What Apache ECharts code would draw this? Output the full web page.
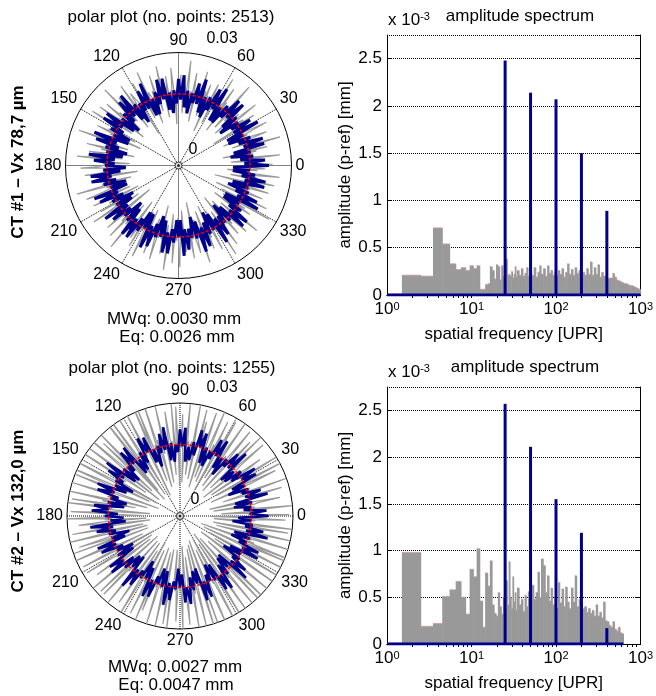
<!DOCTYPE html>
<html>
<head>
<meta charset="utf-8">
<script src="https://cdn.jsdelivr.net/npm/echarts@6/dist/echarts.min.js"></script>
<style>
html, body { margin: 0; padding: 0; background: #fff; }
#chart { width: 656px; height: 696px; }
</style>
</head>
<body>
<div id="chart"></div>
<script>
// polar profiles: deviation from the reference circle, in µm (radius axis 0 .. 0.03 mm)
var refRadius = 19;

var blue1 = [
  5,-1.5,4,-2.5,1,-5,0.5,-4,  4.5,-1,4.5,-2,1.5,-4.5,0,-4.5,  5,-2,3.5,-2,0.5,-5,1,-3.5,
  4.5,-1,4.5,-2,1.5,-4.5,0,-4.5,  5,-1.5,4,-2.5,1,-5,0.5,-4,  5,-2,3.5,-2,0.5,-5,1,-3.5,
  5,-1.5,4,-2.5,1,-5,0.5,-4,  4.5,-1,4.5,-2,1.5,-4.5,0,-4.5,  5,-2,3.5,-2,0.5,-5,1,-3.5,
  5,-1.5,4,-2.5,1,-5,0.5,-4,  4.5,-1,4.5,-2,1.5,-4.5,0,-4.5,  5,-1.5,4,-2.5,1,-5,0.5,-4,
  5,-2,3.5,-2,0.5,-5,1,-3.5,  4.5,-1,4.5,-2,1.5,-4.5,0,-4.5,  5,-1.5,4,-2.5,1,-5,0.5,-4,
  5,-2,3.5,-2,0.5,-5,1,-3.5,  4.5,-1,4.5,-2,1.5,-4.5,0,-4.5,  5,-1.5,4,-2.5,1,-5,0.5,-4,
  4.5,-1,4.5,-2,1.5,-4.5,0,-4.5,  5,-2,3.5,-2,0.5,-5,1,-3.5,  5,-1.5,4,-2.5,1,-5,0.5,-4,
  5,-2,3.5,-2,0.5,-5,1,-3.5,  4.5,-1,4.5,-2,1.5,-4.5,0,-4.5,  5,-1.5,4,-2.5,1,-5,0.5,-4,
  4.5,-1,4.5,-2,1.5,-4.5,0,-4.5
];

var gray1 = [
  1,6,-1,0,2,-5,1,0,8,-1,  0,-2,1,-7,2,0,5,-1,1,0,  -1,9,0,2,-4,1,-1,0,6,2,
  0,-6,1,-1,2,7,0,-1,-3,1,  2,0,-8,1,0,5,-1,2,0,-4,  1,7,-1,0,2,-6,0,1,4,-2,
  0,1,-5,2,9,-1,0,-2,1,-7,  2,0,6,-1,1,-3,0,8,-2,1,  -1,0,-6,2,1,5,0,-1,-9,1,
  0,4,-1,2,-5,1,0,7,-1,0,  2,-1,0,-7,1,6,-2,1,0,-4,  1,9,0,-1,2,-5,1,0,5,-1,
  0,-2,1,-8,0,2,7,-1,1,0,  -1,5,0,2,-6,1,-1,8,0,2,  0,-4,1,0,6,-1,2,-7,0,1,
  2,0,8,-1,1,-5,0,1,-2,6,  -1,0,-9,1,2,4,-1,0,7,0,  1,-6,0,2,-1,5,0,-3,1,9,
  0,1,-5,-1,2,0,6,-1,-7,1,  2,7,0,-1,-4,1,0,8,-2,0,  1,-1,-6,2,0,5,-1,1,-8,0,
  0,4,-1,1,9,-2,0,-5,1,0,  -1,0,6,-1,2,-7,0,1,5,-2,  1,-4,0,8,-1,0,2,-6,1,0,
  0,2,7,-1,1,-5,0,-1,6,1,  -1,-8,0,2,1,4,-1,0,-6,2,  0,9,-1,1,-3,0,2,7,-1,0,
  1,-5,0,-1,6,1,-7,0,2,-1,  0,5,-2,1,0,8,-1,-6,1,0,  2,-1,0,-9,1,6,0,1,-4,2,
  0,7,-1,0,2,-5,1,9,-1,0,  1,-2,-7,0,1,4,-1,0,6,-2,  0,1,-5,2,8,-1,0,-6,1,0,
  -1,6,0,1,-4,0,2,7,-1,1,  0,-8,1,0,5,-1,2,-3,0,9,  1,0,-6,1,-1,7,0,-2,1,-5,
  2,8,-1,0,1,-7,0,4,-1,0,  1,-1,0,6,-2,1,-9,0,2,5,  0,-4,1,-1,8,0,1,-6,0,2,
  -1,5,0,2,-7,1,0,6,-1,0,  1,-5,2,0,9,-1,0,-4,1,7,  0,1,-8,1,0,5,-1,2,-6,0,
  2,6,0,-1,1,-4,0,8,-2,1,  0,-7,1,0,4,-1,2,-5,0,9,  1,0,-6,2,-1,7,0,1,-8,0,
  -1,5,0,1,-4,1,0,6,-1,2,  0,-9,1,0,7,-1,1,-5,2,0,  1,8,-1,0,-6,2,0,4,-1,-3
];

var blue2 = [
  4.5,-0.5,4,-2,0,-4.5,0.5,-4,  5,-1,3.5,-1.5,0.5,-5,0,-3.5,  4,0,4.5,-2.5,1,-4,-0.5,-4.5,
  5,-1,3.5,-1.5,0.5,-5,0,-3.5,  4.5,-0.5,4,-2,0,-4.5,0.5,-4,  4,0,4.5,-2.5,1,-4,-0.5,-4.5,
  4.5,-0.5,4,-2,0,-4.5,0.5,-4,  5,-1,3.5,-1.5,0.5,-5,0,-3.5,  4,0,4.5,-2.5,1,-4,-0.5,-4.5,
  4.5,-0.5,4,-2,0,-4.5,0.5,-4,  5,-1,3.5,-1.5,0.5,-5,0,-3.5,  4.5,-0.5,4,-2,0,-4.5,0.5,-4,
  4,0,4.5,-2.5,1,-4,-0.5,-4.5,  5,-1,3.5,-1.5,0.5,-5,0,-3.5,  4.5,-0.5,4,-2,0,-4.5,0.5,-4,
  4,0,4.5,-2.5,1,-4,-0.5,-4.5,  5,-1,3.5,-1.5,0.5,-5,0,-3.5,  4.5,-0.5,4,-2,0,-4.5,0.5,-4,
  5,-1,3.5,-1.5,0.5,-5,0,-3.5,  4,0,4.5,-2.5,1,-4,-0.5,-4.5,  4.5,-0.5,4,-2,0,-4.5,0.5,-4,
  4,0,4.5,-2.5,1,-4,-0.5,-4.5,  5,-1,3.5,-1.5,0.5,-5,0,-3.5,  4.5,-0.5,4,-2,0,-4.5,0.5,-4,
  5,-1,3.5,-1.5,0.5,-5,0,-3.5
];

var gray2 = [
  1,10,-1,0,-8,2,0,11,-1,1,  0,-10,1,2,8,-1,0,-11,1,0,  2,9,-1,0,-7,1,11,-2,0,1,
  -1,0,-10,2,9,0,-1,11,1,-8,  0,1,11,-1,0,-9,2,7,-1,0,  1,-11,0,2,10,-1,1,-8,0,11,
  -1,0,8,1,-10,0,2,10,-1,0,  1,-9,0,11,-1,1,-7,0,2,10,  0,-11,1,0,9,-1,2,-9,0,11,
  1,0,-8,2,10,-1,0,-11,1,7,  0,10,-1,1,-9,0,11,-2,1,0,  -8,1,0,11,-1,2,-10,0,8,-1,
  0,-11,1,10,0,-1,11,-8,1,0,  2,9,-1,0,-10,1,0,11,-2,1,  0,-11,2,0,13,-1,1,-9,0,12,
  -1,14,0,1,-13,2,0,12,-1,0,  1,-8,0,13,-1,1,-12,0,14,-1,  0,15,-1,2,-10,0,1,-13,1,12,
  -1,0,9,-1,-9,2,14,0,-1,-12,  1,13,0,-1,-8,1,15,-2,0,1,  0,-12,1,13,-1,0,-10,2,14,0,
  -1,12,0,1,-13,0,2,11,-1,0,  1,-10,0,11,-1,2,-7,0,10,-1,  0,11,-1,0,-11,1,0,10,-2,-9,
  1,0,11,-1,1,-10,2,8,0,-1,  -11,1,0,10,-1,2,-9,0,11,-1,  0,-10,1,9,0,-1,11,-10,1,0,
  2,11,-1,0,-8,1,0,10,-1,-11,  0,1,10,-2,1,-10,0,8,-1,0,  -9,2,0,11,-1,1,-11,0,10,-1,
  0,10,-1,1,-10,0,2,11,-1,0,  1,-10,0,9,-1,0,-8,2,11,-1,  0,-11,1,0,10,-1,1,-9,0,11,
  -1,8,0,2,-10,1,0,11,-1,0,  1,-9,0,11,-1,2,-10,0,10,-1,  0,11,-1,0,-10,1,0,9,-2,-9,
  1,0,11,-1,1,-11,2,10,0,-1,  -8,1,0,11,-1,2,-10,0,11,-1,  0,-11,1,12,0,-1,13,-12,1,0,
  2,13,-1,0,-9,1,0,15,-1,-12,  0,1,14,-2,1,-10,0,12,-1,0,  -13,2,0,12,-1,1,-11,0,14,-1,
  0,15,-1,1,-9,0,2,12,-1,0,  1,-12,0,14,-1,0,-8,2,13,-1,  0,-10,1,0,15,-1,1,-12,0,12,
  -1,13,0,2,-13,1,0,12,-1,0,  1,-9,0,11,-1,2,-10,0,10,-1,  0,11,-1,0,-10,1,0,9,-2,-11
];

// amplitude spectra: bin edges [UPR] and bin amplitudes [x 10^-3 mm]
var edges1 = [0.5,1.5,2.5,3.5,4.5,5.5,6.5,7.5,8.5,9.5,10.5,11.5,12.5,13.5,14.5,15.5,16.5,17.5,
  18.5,19.5,20.5,21.5,22.5,23.5,24.5,25.5,26.5,27.5,28.5,29.5,30.5,31.5,32.5,33.5,34.5,
  36.5,38.5,40.5,42.5,44.5,46.5,48.5,51.5,54.5,57.5,60.5,63.5,66.5,70.5,74.5,78.5,82.5,86.5,90.5,
  95.5,100.5,105.5,110.5,116.5,122.5,128.5,135.5,142.5,150.5,158.5,166.5,175.5,185.5,195.5,205.5,
  216.5,228.5,240.5,253.5,266.5,280.5,295.5,310.5,326.5,343.5,361.5,380.5,400.5,
  421.5,443.5,466.5,490.5,516.5,543.5,571.5,601.5,632.5,665.5,700.5,736.5,775.5,815.5,858.5,903.5,950.5,1000];
var amp1 = [0.01,0.21,0.20,0.71,0.54,0.33,0.27,0.29,0.26,0.31, 0.28,0.31,0.06,0.06,0.11,0.12,0.30,0.26,0.17,0.32,
  0.30,0.16,0.31,0.20,0.25,0.38,0.21,0.22,0.20,0.25, 0.18,0.22,0.30,0.19,
  0.26,0.21,0.28,0.20,0.23,0.29,0.20, 0.26,0.21,0.29,0.19,0.24,0.31, 0.22,0.28,0.20,0.31,0.23,0.26,
  0.21,0.24,0.20,0.26, 0.22,0.28,0.19, 0.24,0.33,0.22,0.27,0.21, 0.29,0.23,0.26,0.20,
  0.24,0.21,0.28,0.22,0.35,0.21,0.29,0.22,0.32,0.19,0.24,0.20,0.20,
  0.17,0.18,0.18,0.23,0.19,0.16,0.15,0.14, 0.13,0.12,0.12,0.11,0.10,0.10,0.09,0.08,0.07,0.06];

var edges2 = [0.5,1.5,2.5,3.5,4.5,5.5,6.5,7.5,8.5,9.5,10.5,11.5,12.5,13.5,14.5,15.5,16.5,17.5,
  18.5,19.5,20.5,21.5,22.5,23.5,24.5,25.5,26.5,27.5,28.5,29.5,30.5,31.5,32.5,33.5,34.5,
  36.5,38.5,40.5,42.5,44.5,46.5,48.5,51.5,54.5,57.5,60.5,63.5,66.5,70.5,74.5,78.5,82.5,86.5,90.5,
  95.5,100.5,105.5,110.5,116.5,122.5,128.5,135.5,142.5,150.5,158.5,166.5,175.5,185.5,195.5,205.5,
  216.5,228.5,240.5,253.5,266.5,280.5,295.5,310.5,326.5,343.5,361.5,380.5,400.5,
  421.5,443.5,466.5,490.5,516.5,543.5,571.5,601.5,627.5];
var amp2 = [0.01,0.98,0.19,0.22,0.51,0.58,0.67,0.50,0.32,0.80, 0.72,1.02,0.46,0.18,0.76,0.62,0.89,0.42,0.33,0.30,
  0.55,0.40,0.32,0.50,0.45,0.68,0.42,0.88,0.50,0.38, 0.72,0.45,0.55,0.36,
  0.60,0.42,0.48,0.35,0.52,0.40,0.56, 0.45,0.63,0.48,0.55,0.77,0.50, 0.91,0.84,0.55,0.73,0.46,0.60,
  0.42,0.50,0.38,0.66, 0.44,0.59,0.40, 0.61,0.45,0.38,0.60,0.45, 0.73,0.40,0.48,0.42,
  0.38,0.40,0.34,0.38,0.33,0.36,0.30,0.42,0.30,0.34,0.28,0.45,0.25,
  0.24,0.20,0.18,0.24,0.16,0.14,0.18,0.12, 0.11];

// filtered harmonics (blue)
var peakFreq = [25, 50, 100, 200, 400];
var peakAmp1 = [2.48, 2.14, 2.07, 1.50, 0.89];
var peakAmp2 = [2.57, 2.11, 1.55, 1.19, 0.17];
var band1 = [1, 1000];
var band2 = [1, 627];

var minorTicks = [2,3,4,5,6,7,8,9,10,20,30,40,50,60,70,80,90,100,200,300,400,500,600,700,800,900];

var BLUE = '#00008b';
var GRAY = '#999999';
var FONT = '"Liberation Sans", Arial, sans-serif';

function ring(dev) {
  var out = [];
  for (var i = 0; i <= dev.length; i++) {
    out.push([refRadius + dev[i % dev.length], 360 * i / dev.length]);
  }
  return out;
}
function refCircle() {
  var out = [];
  for (var a = 0; a <= 360; a += 5) out.push([refRadius, a]);
  return out;
}
function bins(edges, amps) {
  return amps.map(function (a, i) { return [edges[i], edges[i + 1], a]; });
}
function stems(freq, amps) {
  return freq.map(function (f, i) { return [f, amps[i]]; });
}

function barItem(params, api) {
  var a = api.coord([api.value(0), api.value(2)]);
  var b = api.coord([api.value(1), 0]);
  var left = Math.max(a[0], params.coordSys.x);
  // overlap neighbours by half a pixel so narrow bins fill without seams
  return {
    type: 'group',
    children: [
      { type: 'rect', shape: { x: left, y: a[1], width: b[0] - left + 0.6, height: b[1] - a[1] },
        style: { fill: GRAY } },
      { type: 'line', shape: { x1: left, y1: a[1], x2: b[0], y2: a[1] },
        style: { stroke: '#d69a9a', lineWidth: 0.8 } }
    ]
  };
}
function stemItem(params, api) {
  var p0 = api.coord([api.value(0), 0]);
  var p1 = api.coord([api.value(0), api.value(1)]);
  return {
    type: 'line',
    shape: { x1: p0[0], y1: p0[1], x2: p1[0], y2: p1[1] },
    style: { stroke: BLUE, lineWidth: 3 }
  };
}

function angleAxis(i) {
  return {
    polarIndex: i, type: 'value', min: 0, max: 360, interval: 30,
    startAngle: 0, clockwise: false,
    axisLine: { lineStyle: { color: '#000', width: 1 } },
    axisTick: { show: false },
    axisLabel: { color: '#000', fontSize: 16, margin: 4,
      formatter: function (v) { return v === 360 ? '' : String(v); } },
    splitLine: { lineStyle: { color: '#000', type: 'dotted', width: 1 } }
  };
}
function radiusAxis(i) {
  return {
    polarIndex: i, type: 'value', min: 0, max: 30,
    axisLine: { show: false }, axisTick: { show: false },
    axisLabel: { show: false }, splitLine: { show: false }
  };
}

function polarSeries(i, gray, blue, blueWidth) {
  return [
    { type: 'line', coordinateSystem: 'polar', polarIndex: i, data: ring(gray),
      symbol: 'none', lineStyle: { color: GRAY, width: 1.2 }, z: 2, silent: true },
    { type: 'line', coordinateSystem: 'polar', polarIndex: i, data: ring(blue),
      symbol: 'none', lineStyle: { color: BLUE, width: blueWidth }, z: 3, silent: true },
    { type: 'line', coordinateSystem: 'polar', polarIndex: i, data: refCircle(),
      symbol: 'none', lineStyle: { color: '#ff0000', width: 1.5, type: [3, 2] }, z: 4, silent: true },
    { type: 'scatter', coordinateSystem: 'polar', polarIndex: i, data: [[0, 0]],
      symbolSize: 7, itemStyle: { color: '#fff', borderColor: '#000', borderWidth: 1 }, z: 5, silent: true },
    { type: 'scatter', coordinateSystem: 'polar', polarIndex: i, data: [[0, 0]],
      symbolSize: 3, itemStyle: { color: '#000' }, z: 6, silent: true }
  ];
}

function xMain(g) {
  return {
    gridIndex: g, type: 'log', logBase: 10, min: 1, max: 1000, position: 'bottom',
    axisLine: { lineStyle: { color: '#000' } },
    axisTick: { inside: true, length: 5, lineStyle: { color: '#000' } },
    axisLabel: {
      color: '#000', margin: 6,
      formatter: function (v) { return '{b|10}{s|' + Math.round(Math.log10(v)) + '}'; },
      rich: {
        b: { fontSize: 17, lineHeight: 17, verticalAlign: 'bottom', fontFamily: FONT, color: '#000' },
        s: { fontSize: 11, lineHeight: 11, verticalAlign: 'top', padding: [0, 0, 9, 0], fontFamily: FONT, color: '#000' }
      }
    },
    splitLine: { show: false },
    name: 'spatial frequency [UPR]', nameLocation: 'middle', nameGap: 31,
    nameTextStyle: { fontSize: 17, color: '#000' }
  };
}
function xTop(g) {
  return {
    gridIndex: g, type: 'value', min: 0, max: 3, position: 'top',
    axisLine: { lineStyle: { color: '#000' } },
    axisTick: { inside: true, length: 3, lineStyle: { color: '#000' },
      customValues: minorTicks.map(function (t) { return Math.log10(t); }) },
    axisLabel: { show: false }, splitLine: { show: false }
  };
}
function yLeft(g) {
  return {
    gridIndex: g, type: 'value', min: 0, max: 2.75, interval: 0.5, position: 'left',
    axisLine: { show: true, lineStyle: { color: '#000' } },
    axisTick: { show: true, inside: true, length: 5, lineStyle: { color: '#000' } },
    axisLabel: { color: '#000', fontSize: 17, margin: 5, showMaxLabel: false },
    splitLine: { show: true, lineStyle: { color: '#000', type: 'dotted', width: 1 } },
    name: 'amplitude (p-ref) [mm]', nameLocation: 'middle', nameGap: 33,
    nameTextStyle: { fontSize: 17, color: '#000' }
  };
}
function yRight(g) {
  return {
    gridIndex: g, type: 'value', min: 0, max: 2.75, interval: 0.5, position: 'right',
    axisLine: { show: true, lineStyle: { color: '#000' } },
    axisTick: { show: true, inside: true, length: 5, lineStyle: { color: '#000' } },
    axisLabel: { show: false }, splitLine: { show: false }
  };
}

function spectrumSeries(g, edges, amps, peaksAmp, band) {
  return [
    { type: 'custom', xAxisIndex: g * 2, yAxisIndex: g * 2, data: bins(edges, amps),
      encode: { x: [0, 1], y: 2 }, renderItem: barItem, z: 2, silent: true },
    { type: 'line', xAxisIndex: g * 2, yAxisIndex: g * 2,
      data: [[band[0], 0], [band[1], 0]], symbol: 'none',
      lineStyle: { color: BLUE, width: 3 }, z: 3, silent: true },
    { type: 'custom', xAxisIndex: g * 2, yAxisIndex: g * 2, data: stems(peakFreq, peaksAmp),
      encode: { x: 0, y: 1 }, renderItem: stemItem, z: 4, silent: true }
  ];
}

function txt(x, y, text, extra) {
  var s = { text: text, fill: '#000', fontSize: 17, fontFamily: FONT,
    align: 'center', verticalAlign: 'middle', textAlign: 'center', textVerticalAlign: 'middle' };
  if (extra) for (var k in extra) s[k] = extra[k];
  return { type: 'text', x: x, y: y, style: s, z: 10 };
}
var expRich = {
  a: { fontSize: 17, lineHeight: 17, verticalAlign: 'bottom', fontFamily: FONT, fill: '#000' },
  e: { fontSize: 11, lineHeight: 11, verticalAlign: 'top', padding: [0, 0, 9, 0], fontFamily: FONT, fill: '#000' }
};

var chart = echarts.init(document.getElementById('chart'), null, { renderer: 'canvas' });
chart.setOption({
  animation: false,
  backgroundColor: '#fff',
  textStyle: { fontFamily: FONT, color: '#000' },
  polar: [
    { center: [178.5, 165.5], radius: 113 },
    { center: [180, 516], radius: 113 }
  ],
  angleAxis: [angleAxis(0), angleAxis(1)],
  radiusAxis: [radiusAxis(0), radiusAxis(1)],
  grid: [
    { left: 387, top: 35, width: 257, height: 260 },
    { left: 387, top: 387, width: 255, height: 257 }
  ],
  xAxis: [xMain(0), xTop(0), xMain(1), xTop(1)],
  yAxis: [yLeft(0), yRight(0), yLeft(1), yRight(1)],
  series: [].concat(
    polarSeries(0, gray1, blue1, 3),
    polarSeries(1, gray2, blue2, 2.6),
    spectrumSeries(0, edges1, amp1, peakAmp1, band1),
    spectrumSeries(1, edges2, amp2, peakAmp2, band2)
  ),
  graphic: [
    txt(171, 17, 'polar plot (no. points: 2513)'),
    txt(172, 368, 'polar plot (no. points: 1255)'),
    txt(222, 39, '0.03', { fontSize: 16 }),
    txt(193, 150, '0', { fontSize: 16 }),
    txt(222, 388, '0.03', { fontSize: 16 }),
    txt(195, 500, '0', { fontSize: 16 }),
    txt(174, 319, 'MWq: 0.0030 mm'),
    txt(177, 337, 'Eq: 0.0026 mm'),
    txt(175, 667, 'MWq: 0.0027 mm'),
    txt(176, 685, 'Eq: 0.0047 mm'),
    { type: 'text', x: 18, y: 162, rotation: Math.PI / 2, z: 10,
      style: { text: 'CT #1 \u2013 Vx 78,7 \u00b5m', fill: '#000', fontSize: 17, fontWeight: 'bold', fontFamily: FONT,
        align: 'center', verticalAlign: 'middle', textAlign: 'center', textVerticalAlign: 'middle' } },
    { type: 'text', x: 18, y: 511, rotation: Math.PI / 2, z: 10,
      style: { text: 'CT #2 \u2013 Vx 132,0 \u00b5m', fill: '#000', fontSize: 17, fontWeight: 'bold', fontFamily: FONT,
        align: 'center', verticalAlign: 'middle', textAlign: 'center', textVerticalAlign: 'middle' } },
    txt(520, 16, 'amplitude spectrum'),
    txt(525, 367, 'amplitude spectrum'),
    { type: 'text', x: 388, y: 20, z: 10,
      style: { text: '{a|x 10}{e|-3}', rich: expRich, fill: '#000', fontFamily: FONT,
        align: 'left', verticalAlign: 'middle', textAlign: 'left', textVerticalAlign: 'middle' } },
    { type: 'text', x: 388, y: 372, z: 10,
      style: { text: '{a|x 10}{e|-3}', rich: expRich, fill: '#000', fontFamily: FONT,
        align: 'left', verticalAlign: 'middle', textAlign: 'left', textVerticalAlign: 'middle' } }
  ]
});
</script>
</body>
</html>
